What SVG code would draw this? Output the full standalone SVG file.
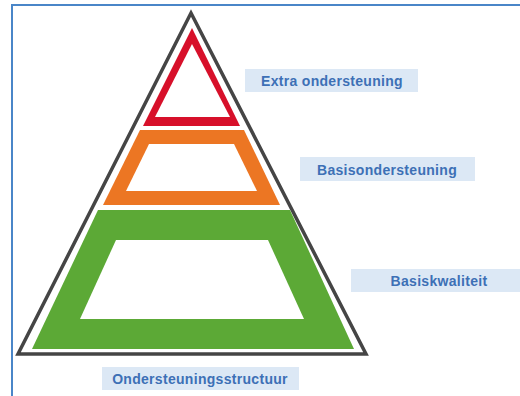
<svg xmlns="http://www.w3.org/2000/svg" width="520" height="396" viewBox="0 0 520 396">
<style>
.lbl{fill:#dce8f5}
.txt{font-family:"Liberation Sans",Arial,sans-serif;font-weight:bold;font-size:14px;letter-spacing:0.3px;fill:#3d70b6;text-anchor:middle}
</style>
<rect x="0" y="0" width="520" height="396" fill="#ffffff"/>
<path d="M12,397 V5 H521" fill="none" stroke="#4a86c8" stroke-width="2"/>
<g id="outer">
<polygon points="191,13 366,354 18,354" fill="none" stroke="#454545" stroke-width="3.5" stroke-linejoin="miter"/>
</g>
<g id="extra">
<polygon points="192,28 240,126 143,126" fill="#d7102a"/>
<polygon points="192,44 230,117 155,117" fill="#ffffff"/>
</g>
<g id="basisondersteuning">
<polygon points="140,130 244,130 280,205 103,205" fill="#ec7623"/>
<polygon points="149,144 234,144 257,191 126,191" fill="#ffffff"/>
</g>
<g id="basiskwaliteit">
<polygon points="98,210 290,210 354,349 32,349" fill="#5ca936"/>
<polygon points="116,240 268,240 304,319 80,319" fill="#ffffff"/>
</g>
<g id="label-extra">
<rect class="lbl" x="245" y="69" width="173" height="23"/>
<text class="txt" x="332" y="86">Extra ondersteuning</text>
</g>
<g id="label-basisondersteuning">
<rect class="lbl" x="300" y="157" width="175" height="24"/>
<text class="txt" x="387" y="175">Basisondersteuning</text>
</g>
<g id="label-basiskwaliteit">
<rect class="lbl" x="351" y="269" width="169" height="23"/>
<text class="txt" x="439" y="286">Basiskwaliteit</text>
</g>
<g id="label-structuur">
<rect class="lbl" x="102" y="367" width="197" height="23"/>
<text class="txt" x="200" y="384">Ondersteuningsstructuur</text>
</g>
</svg>
